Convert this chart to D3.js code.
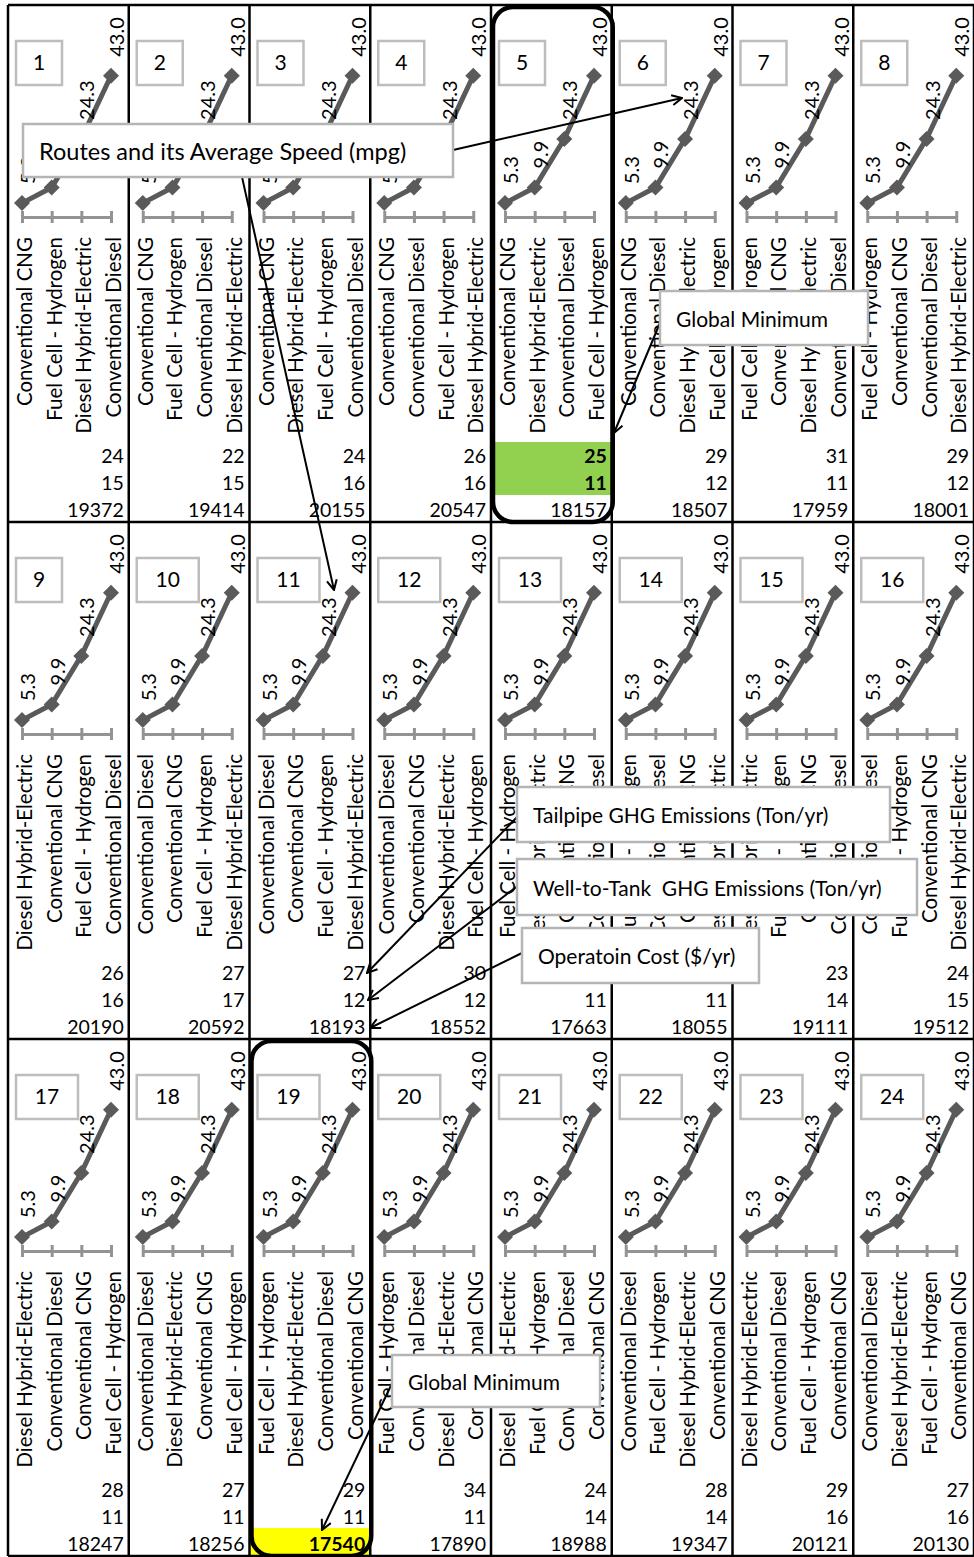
<!DOCTYPE html>
<html>
<head>
<meta charset="utf-8">
<script src="https://cdn.jsdelivr.net/npm/d3@7"></script>
<style>
  html, body { margin: 0; padding: 0; background: #fff; }
  svg { display: block; font-family: Lato, "Open Sans", sans-serif; }
</style>
</head>
<body>
<svg id="chart" width="974" height="1557"></svg>
<script>
// Vehicle technologies
const CNG = "Conventional CNG";
const DSL = "Conventional Diesel";
const HYB = "Diesel Hybrid-Electric";
const FCH = "Fuel Cell - Hydrogen";

// Route numbers, one panel each
const routes = d3.range(1, 25);

// Average speed (mpg) plotted in every panel, lowest to highest
const speedValues = [5.3, 9.9, 24.3, 43.0];

// Technology order along each panel's axis
const vehicleOrder = [
  [CNG, FCH, HYB, DSL], [CNG, FCH, DSL, HYB], [CNG, HYB, FCH, DSL], [CNG, DSL, FCH, HYB],
  [CNG, HYB, DSL, FCH], [CNG, DSL, HYB, FCH], [FCH, CNG, HYB, DSL], [FCH, CNG, DSL, HYB],
  [HYB, CNG, FCH, DSL], [DSL, CNG, FCH, HYB], [DSL, CNG, FCH, HYB], [DSL, CNG, HYB, FCH],
  [FCH, HYB, CNG, DSL], [FCH, DSL, CNG, HYB], [HYB, FCH, CNG, DSL], [DSL, FCH, CNG, HYB],
  [HYB, DSL, CNG, FCH], [DSL, HYB, CNG, FCH], [FCH, HYB, DSL, CNG], [FCH, DSL, HYB, CNG],
  [HYB, FCH, DSL, CNG], [DSL, FCH, HYB, CNG], [HYB, DSL, FCH, CNG], [DSL, HYB, FCH, CNG]
];

// Tailpipe GHG emissions (Ton/yr); routes 13 and 14 sit under the cost callout
const tailpipe = [24, 22, 24, 26, 25, 29, 31, 29,
                  26, 27, 27, 30, null, null, 23, 24,
                  28, 27, 29, 34, 24, 28, 29, 27];
// Well-to-tank GHG emissions (Ton/yr)
const wellToTank = [15, 15, 16, 16, 11, 12, 11, 12,
                    16, 17, 12, 12, 11, 11, 14, 15,
                    11, 11, 11, 11, 14, 14, 16, 16];
// Operation cost ($/yr)
const operationCost = [19372, 19414, 20155, 20547, 18157, 18507, 17959, 18001,
                       20190, 20592, 18193, 18552, 17663, 18055, 19111, 19512,
                       18247, 18256, 17540, 17890, 18988, 19347, 20121, 20130];

// Minimum emissions route and minimum cost route
const minEmissionRoute = 5;
const minCostRoute = 19;

const svg = d3.select("#chart");
const cols = 8, rows = 3;

const colScale = d3.scaleBand().domain(d3.range(cols)).range([8, 974]);
const rowScale = d3.scaleBand().domain(d3.range(rows)).range([5, 1556]);
const cw = colScale.bandwidth(), rh = rowScale.bandwidth();

// Inner scales of each small panel
const x = d3.scalePoint().domain(d3.range(4)).range([14, 103]);
const y = d3.scaleLinear().domain([0, 45]).range([216, 64]);
const axisY = 212;

const lineColor = "#5a5a5a";
const axisColor = "#939393";

// Highlight fills behind the minimum values
routes.forEach((r, i) => {
  const cx = colScale(i % cols), cy = rowScale(Math.floor(i / cols));
  if (r === minEmissionRoute) {
    svg.append("rect").attr("x", cx).attr("y", cy + 437).attr("width", cw).attr("height", 53)
      .attr("fill", "#92d050");
  }
  if (r === minCostRoute) {
    svg.append("rect").attr("x", cx).attr("y", cy + 489).attr("width", cw).attr("height", rh - 489)
      .attr("fill", "#ffff00");
  }
});

// Panel grid
const grid = svg.append("g").attr("stroke", "#000").attr("stroke-width", 2.5).attr("fill", "none");
d3.range(cols + 1).forEach(c => {
  const xx = c < cols ? colScale(c) : 974;
  grid.append("line").attr("x1", xx).attr("x2", xx).attr("y1", 5).attr("y2", 1556);
});
d3.range(rows + 1).forEach(rw => {
  const yy = rw < rows ? rowScale(rw) : 1556;
  grid.append("line").attr("x1", 8).attr("x2", 974).attr("y1", yy).attr("y2", yy);
});

const line = d3.line().x((d, i) => x(i)).y(d => y(d));
const diamond = "M0,-8L8,0L0,8L-8,0Z";

routes.forEach((r, i) => {
  const cx = colScale(i % cols), cy = rowScale(Math.floor(i / cols));
  const g = svg.append("g").attr("transform", `translate(${cx},${cy})`);

  // Route number box
  const w = r < 10 ? 46 : 62;
  g.append("rect").attr("x", 8).attr("y", 36).attr("width", w).attr("height", 44)
    .attr("fill", "#fff").attr("stroke", "#bdbdbd").attr("stroke-width", 2.5);
  g.append("text").attr("x", 8 + w / 2).attr("y", 65).attr("text-anchor", "middle")
    .attr("font-size", 21).attr("fill", "#000").text(r);

  // Category axis with crossing ticks
  const ax = g.append("g").attr("transform", `translate(0,${axisY - 6})`)
    .call(d3.axisBottom(x).tickSizeInner(12).tickSizeOuter(0).tickFormat(""));
  ax.select(".domain").attr("transform", "translate(0,6)").attr("stroke", axisColor).attr("stroke-width", 3);
  ax.selectAll(".tick line").attr("stroke", axisColor).attr("stroke-width", 3);

  // Speed line and markers
  g.append("path").datum(speedValues).attr("d", line)
    .attr("fill", "none").attr("stroke", lineColor).attr("stroke-width", 5);
  g.selectAll("path.pt").data(speedValues).join("path").attr("class", "pt")
    .attr("d", diamond).attr("fill", lineColor)
    .attr("transform", (d, k) => `translate(${x(k)},${y(d)})`);

  // Value labels
  g.selectAll("text.val").data(speedValues).join("text").attr("class", "val")
    .attr("transform", (d, k) => `translate(${x(k) + 5},${y(d) - 19}) rotate(-90)`)
    .attr("dominant-baseline", "central").attr("font-size", 20).attr("fill", "#000")
    .text(d => d.toFixed(1));

  // Technology labels under the axis
  g.selectAll("text.cat").data(vehicleOrder[i]).join("text").attr("class", "cat")
    .attr("transform", (d, k) => `translate(${x(k) + 2},232) rotate(-90)`)
    .attr("text-anchor", "end").attr("dominant-baseline", "central")
    .attr("font-size", 20.5).attr("fill", "#000").text(d => d);

  // Emissions and cost figures
  const figs = [tailpipe[i], wellToTank[i], operationCost[i]];
  g.selectAll("text.fig").data(figs).join("text").attr("class", "fig")
    .attr("x", cw - 5).attr("y", (d, k) => 458 + k * 27)
    .attr("text-anchor", "end").attr("font-size", 19.5).attr("fill", "#000")
    .attr("font-weight", (d, k) => (r === minEmissionRoute && k < 2) || (r === minCostRoute && k === 2) ? "bold" : null)
    .text(d => d === null ? "" : d);
});

// Rounded frames around the two optimal routes
[minEmissionRoute, minCostRoute].forEach(r => {
  const i = r - 1;
  const cx = colScale(i % cols), cy = rowScale(Math.floor(i / cols));
  svg.append("rect").attr("x", cx + 2).attr("y", cy + 2).attr("width", cw - 1).attr("height", rh - 2)
    .attr("rx", 20).attr("ry", 20).attr("fill", "none").attr("stroke", "#000").attr("stroke-width", 4.5);
});

// Arrow marker
const defs = svg.append("defs");
defs.append("marker").attr("id", "arrow").attr("viewBox", "0 0 12 12")
  .attr("refX", 11).attr("refY", 6).attr("markerWidth", 12).attr("markerHeight", 12)
  .attr("markerUnits", "userSpaceOnUse").attr("orient", "auto")
  .append("path").attr("d", "M1,1L11,6L1,11").attr("fill", "none")
  .attr("stroke", "#000").attr("stroke-width", 2);

const callouts = [
  { text: "Routes and its Average Speed (mpg)", size: 23.5, box: [23, 124, 430, 53],
    arrows: [[453, 150, 682, 98], [236, 150, 334, 590]] },
  { text: "Global Minimum", size: 21, box: [660, 291, 208, 54], arrows: [[662, 318, 614, 433]] },
  { text: "Tailpipe GHG Emissions (Ton/yr)", size: 21, box: [517, 787, 373, 55], arrows: [[519, 815, 367, 973]] },
  { text: "Well-to-Tank  GHG Emissions (Ton/yr)", size: 21, box: [517, 859, 400, 56], arrows: [[519, 885, 368, 1000]] },
  { text: "Operatoin Cost ($/yr)", size: 21, box: [522, 928, 237, 55], arrows: [[524, 952, 370, 1028]] },
  { text: "Global Minimum", size: 21, box: [392, 1355, 208, 52], arrows: [[396, 1375, 322, 1530]] }
];

callouts.forEach(c => {
  c.arrows.forEach(a => {
    svg.append("line").attr("x1", a[0]).attr("y1", a[1]).attr("x2", a[2]).attr("y2", a[3])
      .attr("stroke", "#000").attr("stroke-width", 2).attr("marker-end", "url(#arrow)");
  });
});
callouts.forEach(c => {
  const [bx, by, bw, bh] = c.box;
  svg.append("rect").attr("x", bx).attr("y", by).attr("width", bw).attr("height", bh)
    .attr("fill", "#fff").attr("stroke", "#b5b5b5").attr("stroke-width", 2.5);
  svg.append("text").attr("x", bx + 16).attr("y", by + bh / 2).attr("dominant-baseline", "central")
    .attr("font-size", c.size).attr("fill", "#000").style("white-space", "pre")
    .text(c.text);
});
</script>
</body>
</html>
